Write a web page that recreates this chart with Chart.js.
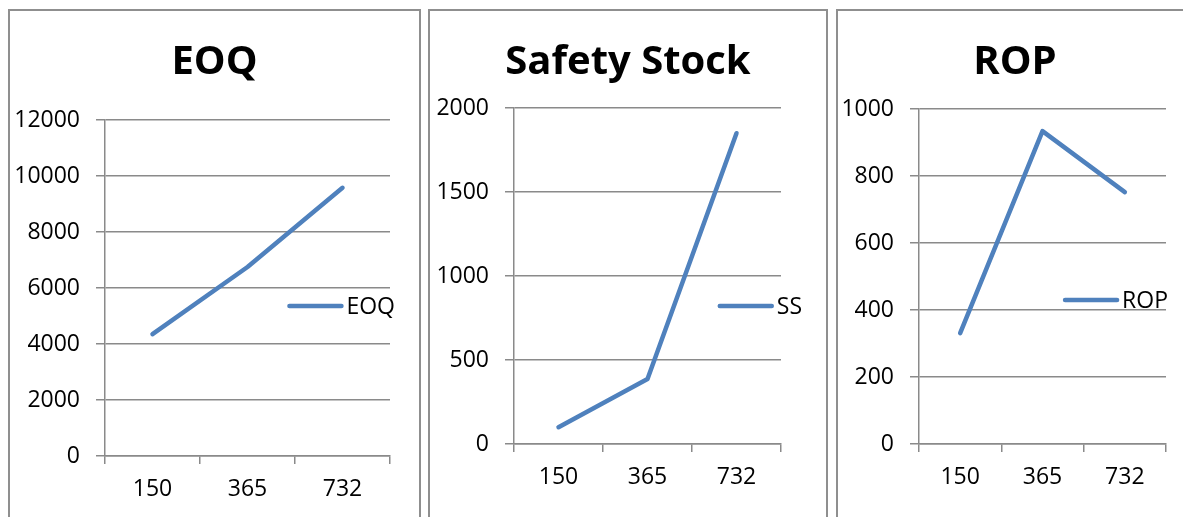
<!DOCTYPE html>
<html>
<head>
<meta charset="utf-8">
<script src="https://cdn.jsdelivr.net/npm/chart.js@4.4.1/dist/chart.umd.min.js"></script>
<style>
  html, body { margin: 0; padding: 0; background: #fff; overflow: hidden; }
  body { position: relative; width: 1183px; height: 517px; }
  .panel { position: absolute; top: 9px; border: 2px solid #8f8f8f; background: #fff; }
  canvas { display: block; }
</style>
</head>
<body>
<div class="panel" style="left:8px"><canvas id="eoq-chart" width="409" height="506"></canvas></div>
<div class="panel" style="left:428px"><canvas id="ss-chart" width="396" height="506"></canvas></div>
<div class="panel" style="left:836px"><canvas id="rop-chart" width="354" height="506"></canvas></div>

<script>
// Demand levels shared by all three charts
const demandLabels = ['150', '365', '732'];

// Economic order quantity
const eoqValues = [4350, 6750, 9580];
const eoqTicks = { max: 12000, step: 2000 };

// Safety stock
const ssValues = [100, 387, 1850];
const ssTicks = { max: 2000, step: 500 };

// Reorder point
const ropValues = [331, 934, 752];
const ropTicks = { max: 1000, step: 200 };

const GRID = '#8a8a8a';
const LINE = '#4f81bd';
const LABEL_SIZE = 23;

Chart.defaults.font.family = "'Open Sans', sans-serif";
Chart.defaults.color = '#000';

// Title centred on the whole canvas (the built-in one centres inside the layout padding)
const panelTitle = {
    id: 'panelTitle',
    afterDraw(chart, args, opts) {
        const ctx = chart.ctx;
        ctx.save();
        ctx.font = "bold 40px 'Open Sans'";
        ctx.fillStyle = '#000';
        ctx.textAlign = 'center';
        ctx.textBaseline = 'alphabetic';
        ctx.fillText(opts.text, chart.width / 2, opts.baseline);
        ctx.restore();
    }
};

// Legend drawn as a single line sample + label, right-aligned near the panel edge
const inlineLegend = {
    id: 'inlineLegend',
    afterDraw(chart, args, opts) {
        const ds = chart.data.datasets[0];
        const ctx = chart.ctx;
        ctx.save();
        ctx.font = LABEL_SIZE + "px 'Open Sans'";
        const tw = ctx.measureText(ds.label).width;
        const textX = chart.width - opts.right - tw;
        const lineEnd = textX - 5;
        const y = opts.y;
        ctx.strokeStyle = ds.borderColor;
        ctx.lineWidth = ds.borderWidth;
        ctx.lineCap = 'round';
        ctx.beginPath();
        ctx.moveTo(lineEnd - 52, y);
        ctx.lineTo(lineEnd, y);
        ctx.stroke();
        ctx.fillStyle = '#000';
        ctx.textBaseline = 'middle';
        ctx.fillText(ds.label, textX, y + 1);
        ctx.restore();
    }
};

function makeChart(id, title, label, values, ticks, box) {
    const canvas = document.getElementById(id);
    return new Chart(canvas.getContext('2d'), {
        type: 'line',
        data: {
            labels: demandLabels,
            datasets: [{
                label: label,
                data: values,
                borderColor: LINE,
                borderWidth: 4.5,
                borderCapStyle: 'round',
                borderJoinStyle: 'round',
                pointRadius: 0,
                tension: 0,
                fill: false
            }]
        },
        options: {
            responsive: false,
            animation: false,
            layout: {
                padding: { left: 0, top: box.top, bottom: 0, right: canvas.width - box.right }
            },
            plugins: {
                legend: { display: false },
                tooltip: { enabled: false },
                title: { display: false },
                panelTitle: { text: title, baseline: 63 },
                inlineLegend: { right: 24, y: box.legendY }
            },
            scales: {
                x: {
                    offset: true,
                    grid: {
                        offset: true,
                        drawOnChartArea: false,
                        drawTicks: true,
                        tickLength: 8,
                        color: GRID,
                        lineWidth: 1.5
                    },
                    border: { display: true, color: GRID, width: 1.5 },
                    ticks: { font: { size: LABEL_SIZE }, padding: 12, maxRotation: 0 },
                    afterFit(scale) { scale.height = canvas.height - box.bottom; }
                },
                y: {
                    min: 0,
                    max: ticks.max,
                    ticks: {
                        stepSize: ticks.step,
                        font: { size: LABEL_SIZE },
                        padding: 16,
                        callback: v => String(v)
                    },
                    grid: { color: GRID, lineWidth: 1.5, tickLength: 9 },
                    border: { display: true, color: GRID, width: 1.5 },
                    afterFit(scale) { scale.width = box.left; }
                }
            }
        },
        plugins: [panelTitle, inlineLegend]
    });
}

makeChart('eoq-chart', 'EOQ', 'EOQ', eoqValues, eoqTicks,
    { left: 95, right: 380, top: 109, bottom: 445, legendY: 295 });
makeChart('ss-chart', 'Safety Stock', 'SS', ssValues, ssTicks,
    { left: 84, right: 351, top: 97, bottom: 433, legendY: 295 });
makeChart('rop-chart', 'ROP', 'ROP', ropValues, ropTicks,
    { left: 81, right: 328, top: 98, bottom: 433, legendY: 289 });
</script>
</body>
</html>
